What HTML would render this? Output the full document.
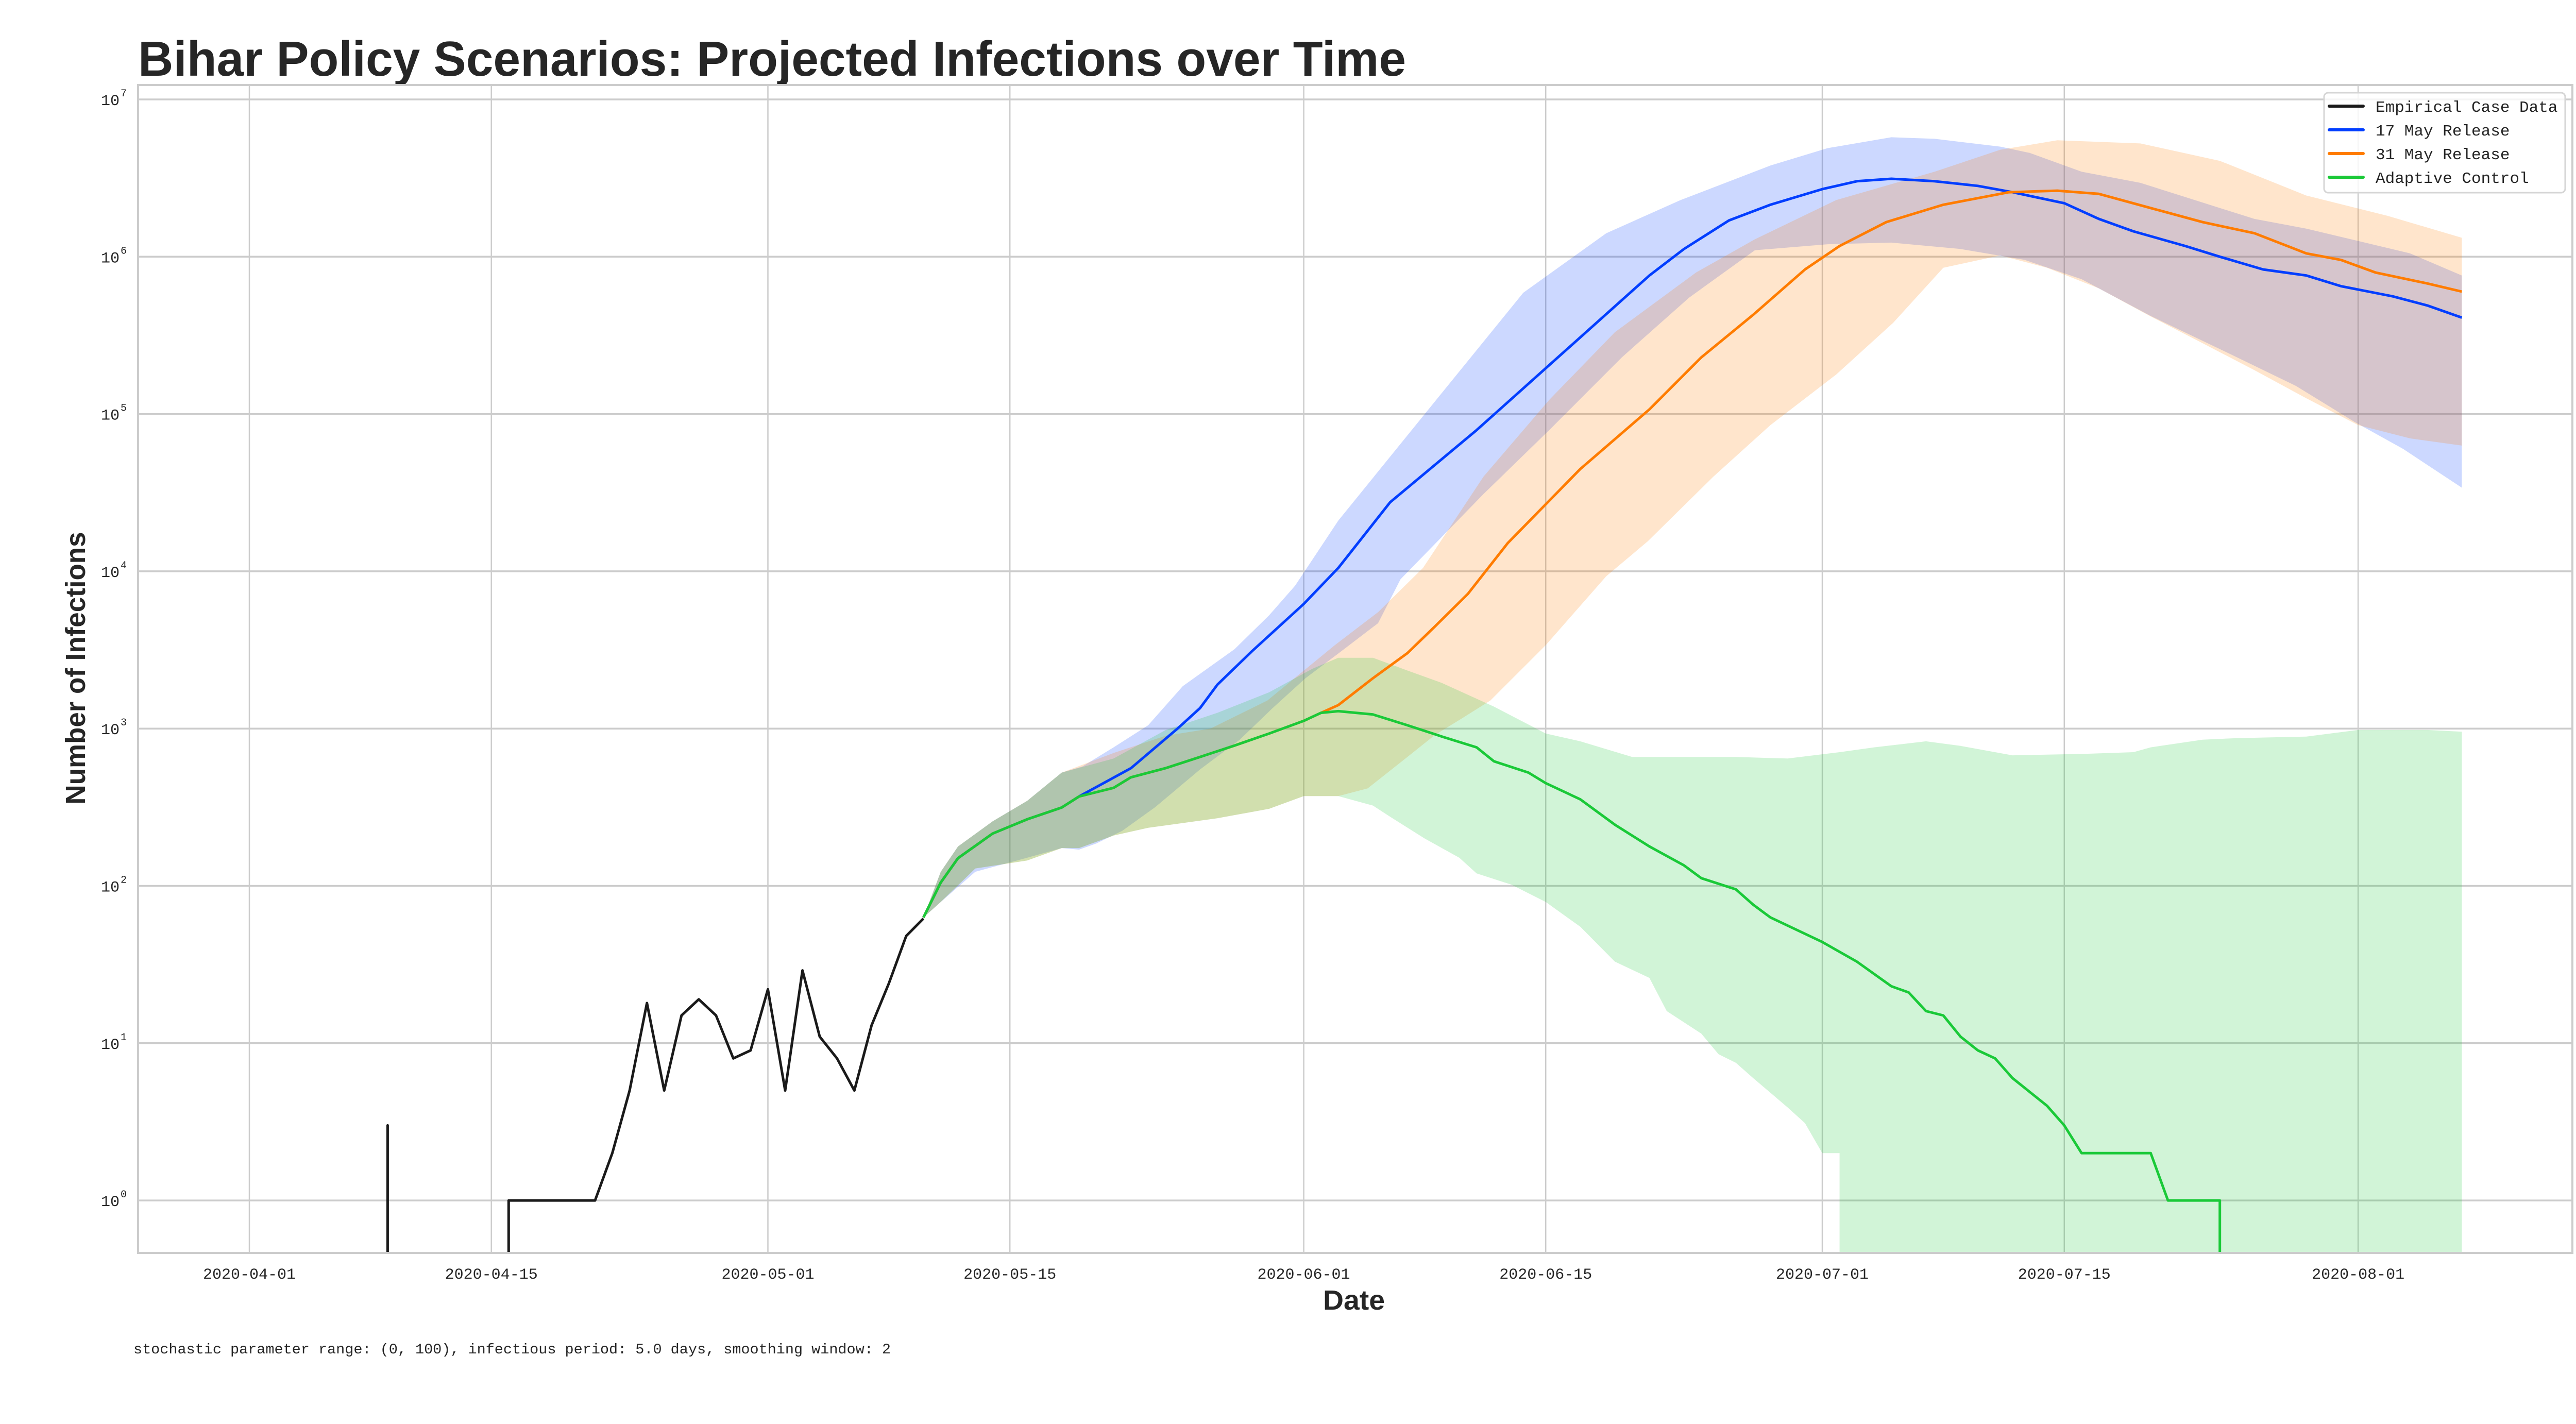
<!DOCTYPE html>
<html><head><meta charset="utf-8">
<style>
html,body{margin:0;padding:0;background:#fff;width:5120px;height:2764px;overflow:hidden;}
svg{display:block;position:absolute;left:0;top:0;}
</style></head>
<body>
<svg id="chart" width="5120" height="2764" viewBox="0 0 5120 2764" xmlns="http://www.w3.org/2000/svg">
<defs><clipPath id="plotclip"><rect x="268" y="165" width="4725" height="2267"/></clipPath></defs>
<rect x="0" y="0" width="5120" height="2764" fill="#fff"/>
<text x="268" y="147" font-family="'Liberation Sans Narrow','Liberation Sans',sans-serif" font-weight="bold" font-size="96" fill="#262626" textLength="2461" lengthAdjust="spacingAndGlyphs">Bihar Policy Scenarios: Projected Infections over Time</text>
<g id="grid"></g>
<g id="fills" clip-path="url(#plotclip)"></g>
<g id="lines" clip-path="url(#plotclip)"></g>
<rect x="268" y="165" width="4725" height="2267" fill="none" stroke="#cccccc" stroke-width="4"/>
<g id="ticks"></g>
<text x="2628" y="2542" text-anchor="middle" font-family="'Liberation Sans Narrow','Liberation Sans',sans-serif" font-weight="bold" font-size="54" fill="#262626" textLength="120" lengthAdjust="spacingAndGlyphs">Date</text>
<text transform="translate(165,1297) rotate(-90)" text-anchor="middle" font-family="'Liberation Sans Narrow','Liberation Sans',sans-serif" font-weight="bold" font-size="54" fill="#262626" textLength="529" lengthAdjust="spacingAndGlyphs">Number of Infections</text>
<text x="259" y="2627" font-family="'Liberation Mono',monospace" font-size="28" fill="#262626" textLength="1470" lengthAdjust="spacingAndGlyphs">stochastic parameter range: (0, 100), infectious period: 5.0 days, smoothing window: 2</text>
<g>
<rect x="4511" y="180" width="468" height="194" rx="8" fill="#fff" fill-opacity="0.8" stroke="#d5d5d5" stroke-width="3"/>
<g><line x1="4521" y1="206" x2="4587" y2="206" stroke="#1a1a1a" stroke-width="6" stroke-linecap="round"/><text x="4611" y="217" font-family="'Liberation Mono',monospace" font-size="31" fill="#262626">Empirical Case Data</text></g>
<g><line x1="4521" y1="252" x2="4587" y2="252" stroke="#023eff" stroke-width="6" stroke-linecap="round"/><text x="4611" y="263" font-family="'Liberation Mono',monospace" font-size="31" fill="#262626">17 May Release</text></g>
<g><line x1="4521" y1="298" x2="4587" y2="298" stroke="#ff7c00" stroke-width="6" stroke-linecap="round"/><text x="4611" y="309" font-family="'Liberation Mono',monospace" font-size="31" fill="#262626">31 May Release</text></g>
<g><line x1="4521" y1="344" x2="4587" y2="344" stroke="#1ac938" stroke-width="6" stroke-linecap="round"/><text x="4611" y="355" font-family="'Liberation Mono',monospace" font-size="31" fill="#262626">Adaptive Control</text></g>
</g>
</svg>
<script>
// days since 2020-04-01
const xTickDays = [0, 14, 30, 44, 61, 75, 91, 105, 122];
const xTickLabels = ["2020-04-01","2020-04-15","2020-05-01","2020-05-15","2020-06-01","2020-06-15","2020-07-01","2020-07-15","2020-08-01"];
const yTickExps = [0,1,2,3,4,5,6,7];

const empDays = [7,8,9,14,15,16,17,18,19,20,21,22,23,24,25,26,27,28,29,30,31,32,33,34,35,36,37,38,39];
const empVals = [0,3,0,0,1,1,1,1,1,1,2,5,18,5,15,19,15,8,9,22,5,29,11,8,5,13,24,48,62];

const greenDays = [39,40,41,43,45,47,48,50,51,53,55,57,59,61,62,63,65,67,69,71,72,74,75,77,79,81,83,84,86,87,88,91,93,95,96,97,98,99,100,101,102,104,105,106,110,111,114,115];
const greenVals = [63,105,150,215,265,315,370,420,490,560,660,780,930,1120,1260,1290,1230,1050,890,760,620,525,450,355,245,178,135,112,95,76,63,44,33,23,21,16,15,11,9,8,6,4,3,2,2,1,1,0];
const greenUpDays = [39,40,41,43,45,47,50,53,56,59,61.5,63,65,67,69,72,75,77,80,83,86,89,92,94,97,99,102,106,109,110,113,115,119,122,126,128];
const greenUpVals = [63,123,178,257,347,525,645,977,1260,1700,2400,2820,2820,2340,1950,1380,930,830,660,660,660,645,708,760,830,776,676,690,708,760,850,870,890,980,980,955];
const greenLoDays = [39,40,42,45,47,48,50,52,56,59,61,63,65,66,68,70,71,73,75,77,79,81,82,84,85,86,87,89,90,91,92,93,128];
const greenLoVals = [63,79,129,145,174,174,209,234,269,309,372,372,324,275,200,151,120,102,79,55,33,26,16,11.5,8.5,7.5,6,3.9,3.1,2,2,0,0];

const blueDays = [39,40,41,43,45,47,48,51,53.7,55,56,58,61,63,66,71,76,81,83,85.6,88,91,93,95,97.5,100,102,105,107,109,112,114,116.5,119,121,124,126,128];
const blueVals = [63,105,150,215,265,315,370,560,1000,1350,1900,3100,6200,10500,27500,79000,245000,760000,1120000,1700000,2140000,2690000,3020000,3130000,3020000,2820000,2570000,2190000,1740000,1450000,1170000,1000000,830000,760000,650000,560000,490000,410000];
const blueUpDays = [39,40,41,43,45,47,48.2,50,52,54,57,59,60.5,63,68,73.7,78.5,82.8,88,91.3,95,97.5,101.3,103,106,109.4,116,119,125,128];
const blueUpVals = [63,123,178,257,347,525,575,760,1050,1860,3200,5250,8100,21000,100000,590000,1410000,2290000,3800000,4900000,5750000,5620000,5010000,4570000,3470000,2950000,1740000,1510000,1050000,760000];
const blueLoDays = [39,40,42,45,47,48,49,50.5,52.4,55,57.3,59.2,61.1,63.4,65.3,66.6,71.4,75.2,79.4,83.3,87.1,91.3,95,99,102.7,106,110,115,118.4,121.8,124.6,128];
const blueLoVals = [63,79,123,151,174,170,186,224,316,550,850,1350,2090,3240,4680,8900,31000,79000,229000,550000,1100000,1200000,1230000,1120000,955000,720000,420000,229000,151000,89000,60000,34000];

const orangeDays = [39,40,41,43,45,47,48,50,51,53,55,57,59,61,62,63,65,67,68.6,70.5,72.8,77,81,84,87,90,92,94.7,98,101.8,104.6,107,110,113,116,119,121,123,126,128];
const orangeVals = [63,105,150,215,265,315,370,420,490,560,660,780,930,1120,1260,1410,2090,3020,4470,7200,15100,44700,107000,229000,427000,830000,1170000,1660000,2140000,2570000,2630000,2510000,2040000,1660000,1410000,1050000,955000,794000,676000,600000];
const orangeUpDays = [39,40,41,43,45,47,50,53,55.6,58.9,60.8,62.8,65.3,67.9,71.4,75.2,79,83.7,87.1,91.8,97.5,101.3,104.6,109.4,114,119,123.7,128];
const orangeUpVals = [63,123,178,257,347,525,700,900,1000,1510,2240,3390,5500,10500,40000,123000,331000,794000,1290000,2290000,3470000,4790000,5500000,5250000,4070000,2450000,1820000,1320000];
const orangeLoDays = [39,40,42,45,47,48,50,52,56,59,61,63,64.7,67,68.6,70.2,71.8,75,78.5,80.9,84.7,88,91.8,95.1,98,101.3,104,107,110,113,116,119,122,125,128];
const orangeLoVals = [63,79,129,145,174,174,209,234,269,309,372,372,417,660,912,1170,1510,3390,9300,15500,40000,85000,178000,380000,850000,1020000,850000,630000,417000,282000,190000,126000,85000,70000,63000];

const X0 = 484, PXDAY = 33.55, Y7 = 193, DEC = 305.3, YFLOOR = 2500;
function xs(d){ return X0 + PXDAY*d; }
function ys(v){ if(v<=0) return YFLOOR; return Y7 + (7 - Math.log10(v))*DEC; }
const NS = "http://www.w3.org/2000/svg";
function mk(tag, attrs, parent){ const e=document.createElementNS(NS,tag); for(const k in attrs) e.setAttribute(k, attrs[k]); parent.appendChild(e); return e; }
// zero values (log = -inf) drop vertically at the adjacent nonzero point's x
function pts(days, vals){
  const out = [];
  for(let i=0;i<days.length;i++){
    if(vals[i] > 0){ out.push(xs(days[i]).toFixed(1)+","+ys(vals[i]).toFixed(1)); continue; }
    const prevNZ = i>0 && vals[i-1]>0, nextNZ = i<days.length-1 && vals[i+1]>0;
    if(prevNZ) out.push(xs(days[i-1]).toFixed(1)+","+YFLOOR);
    if(nextNZ) out.push(xs(days[i+1]).toFixed(1)+","+YFLOOR);
    if(!prevNZ && !nextNZ) out.push(xs(days[i]).toFixed(1)+","+YFLOOR);
  }
  return out;
}

const grid = document.getElementById('grid');
const ticks = document.getElementById('ticks');
xTickDays.forEach((d,i)=>{
  const g = mk('line',{x1:xs(d),x2:xs(d),y1:165,y2:2432,stroke:'#cccccc','stroke-width':2.5},grid);
  
  
  const t = mk('text',{x:xs(d),y:2482,'text-anchor':'middle','font-family':"'Liberation Mono',monospace",'font-size':30,fill:'#262626'},ticks);
  t.textContent = xTickLabels[i];
  
  
});
yTickExps.forEach(k=>{
  const y = ys(Math.pow(10,k));
  const g = mk('line',{x1:268,x2:4993,y1:y,y2:y,stroke:'#cccccc','stroke-width':3.5},grid);
  
  
  const t = mk('text',{x:232,y:y+11,'text-anchor':'end','font-family':"'Liberation Mono',monospace",'font-size':30,fill:'#262626'},ticks);
  t.textContent = '10';
  
  
  const s = mk('text',{x:234,y:y-6,'font-family':"'Liberation Mono',monospace",'font-size':20,fill:'#262626'},ticks);
  s.textContent = String(k);
  
  
});

const fills = document.getElementById('fills');
const lines = document.getElementById('lines');
function band(upD,upV,loD,loV,color,name){
  const p = pts(upD,upV).concat(pts(loD,loV).reverse());
  const e = mk('polygon',{points:p.join(' '),fill:color,'fill-opacity':0.2,stroke:'none'},fills);
  
  
}
function line(days,vals,color,name){
  const e = mk('polyline',{points:pts(days,vals).join(' '),fill:'none',stroke:color,'stroke-width':5,'stroke-linejoin':'round'},lines);
  
  
}
band(blueUpDays,blueUpVals,blueLoDays,blueLoVals,'#023eff','band-17-may');
band(orangeUpDays,orangeUpVals,orangeLoDays,orangeLoVals,'#ff7c00','band-31-may');
band(greenUpDays,greenUpVals,greenLoDays,greenLoVals,'#1ac938','band-adaptive');
line(blueDays,blueVals,'#023eff','line-17-may');
line(orangeDays,orangeVals,'#ff7c00','line-31-may');
line(greenDays,greenVals,'#1ac938','line-adaptive');
line(empDays,empVals,'#1a1a1a','line-empirical');
</script>
</body></html>
